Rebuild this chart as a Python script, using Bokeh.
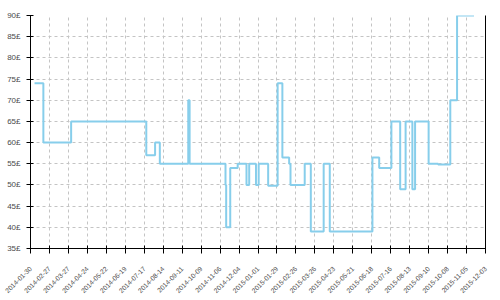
import math
from datetime import datetime
from bokeh.plotting import figure
from bokeh.models import (ColumnDataSource, FixedTicker, DatetimeTickFormatter,
                          PrintfTickFormatter, LinearAxis, Range1d)
from bokeh.embed import file_html
from bokeh.resources import INLINE

# ---- data ----
dates = [
    "2014-02-05", "2014-02-18", "2014-03-31", "2014-07-20", "2014-08-02",
    "2014-08-09", "2014-09-20", "2014-09-22", "2014-11-14", "2014-11-15",
    "2014-11-21", "2014-12-02", "2014-12-15", "2014-12-19", "2014-12-29",
    "2015-01-02", "2015-01-16", "2015-01-30", "2015-02-06", "2015-02-16",
    "2015-02-18", "2015-03-11", "2015-03-20", "2015-04-08", "2015-04-17",
    "2015-06-19", "2015-06-29", "2015-07-17", "2015-07-30", "2015-08-07",
    "2015-08-17", "2015-08-21", "2015-09-10", "2015-09-24", "2015-10-12",
    "2015-10-22", "2015-11-16",
]
prices = [
    74, 60, 65, 57, 60,
    55, 70, 55, 50, 40,
    54, 55, 50, 55, 50,
    55, 49.8, 74, 56.5, 55,
    50, 55, 39, 55, 39,
    56.5, 54, 65, 49, 65,
    49, 65, 55, 54.8, 70,
    90, 90,
]
x_tick_labels = [
    "2014-01-30", "2014-02-27", "2014-03-27", "2014-04-24", "2014-05-22",
    "2014-06-19", "2014-07-17", "2014-08-14", "2014-09-11", "2014-10-09",
    "2014-11-06", "2014-12-04", "2015-01-01", "2015-01-29", "2015-02-26",
    "2015-03-26", "2015-04-23", "2015-05-21", "2015-06-18", "2015-07-16",
    "2015-08-13", "2015-09-10", "2015-10-08", "2015-11-05", "2015-12-03",
]
y_ticks = [35, 40, 45, 50, 55, 60, 65, 70, 75, 80, 85, 90]

EPOCH = datetime(1970, 1, 1)
def to_ms(s):
    return (datetime.strptime(s, "%Y-%m-%d") - EPOCH).total_seconds() * 1000.0

src = ColumnDataSource(dict(x=[datetime.strptime(d, "%Y-%m-%d") for d in dates], y=prices))
tick_ms = [to_ms(s) for s in x_tick_labels]

p = figure(width=500, height=300, x_axis_type="datetime",
           output_backend="svg", toolbar_location=None,
           x_range=Range1d(tick_ms[0], tick_ms[-1]), y_range=Range1d(35, 90),
           min_border_left=30, min_border_right=15, min_border_top=15,
           min_border_bottom=52)
p.outline_line_color = None
p.background_fill_color = "white"
p.border_fill_color = "white"

p.step("x", "y", source=src, mode="after", line_color="#87ceeb", line_width=2)

# x axis
xa = p.xaxis[0]
xa.ticker = FixedTicker(ticks=tick_ms)
xa.formatter = DatetimeTickFormatter(days="%Y-%m-%d", months="%Y-%m-%d",
                                     years="%Y-%m-%d", hours="%Y-%m-%d")
xa.major_label_orientation = math.pi / 4
xa.major_label_text_font = "Liberation Sans"
xa.major_label_text_font_size = "6.7px"
xa.major_label_text_color = "#4a4a4a"
xa.major_tick_in = 3
xa.major_tick_out = 5
xa.minor_tick_line_color = None
xa.axis_line_color = "black"
xa.major_tick_line_color = "black"
xa.major_label_standoff = 14

# y axis
ya = p.yaxis[0]
ya.ticker = FixedTicker(ticks=y_ticks)
ya.formatter = PrintfTickFormatter(format="%d£")
ya.major_label_text_font = "Liberation Sans"
ya.major_label_text_font_size = "8px"
ya.major_label_text_color = "#4a4a4a"
ya.major_tick_in = 3
ya.major_tick_out = 4
ya.minor_tick_line_color = None
ya.axis_line_color = "black"
ya.major_tick_line_color = "black"
ya.major_label_standoff = 6

# right frame line (no ticks, no labels)
ra = LinearAxis(ticker=FixedTicker(ticks=[]), major_tick_line_color=None,
                minor_tick_line_color=None, axis_line_color="black")
p.add_layout(ra, "right")

for g in (p.xgrid[0], p.ygrid[0]):
    g.grid_line_color = "#c4c4c4"
    g.grid_line_dash = "3 3"
    g.grid_line_width = 1
p.ygrid[0].ticker = FixedTicker(ticks=y_ticks)

open("out.html", "w").write(file_html(p, INLINE))
